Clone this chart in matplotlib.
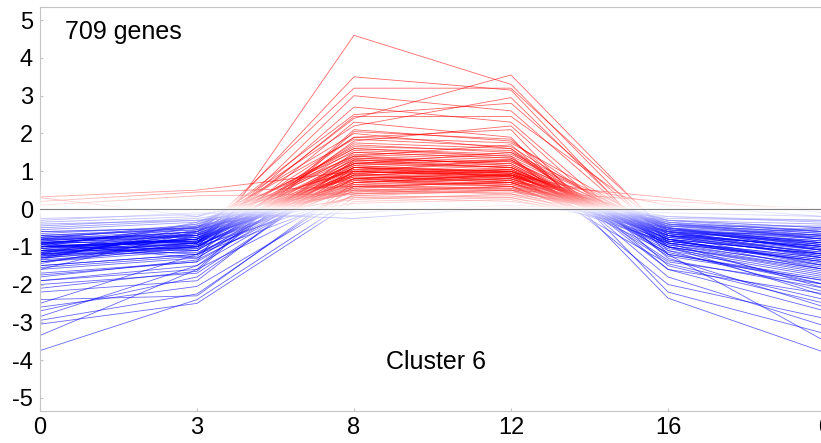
import numpy as np
from matplotlib import pyplot as plt
from matplotlib.collections import LineCollection
from matplotlib.patches import Rectangle

plt.rcParams['font.family'] = ['Liberation Sans', 'DejaVu Sans']
plt.rcParams['axes.unicode_minus'] = False

# time point labels (the last one is the next day's 0 h)
time_labels = ['0', '3', '8', '12', '16', '0']

# expression (log ratio) of each gene at every time point
h0 = [-3.75, -3.35, -3.05, -2.95, -2.7, -2.6, -2.85, -2.4, -2.2, -2.5,
      -1.7, -1.2, -1.0, -0.8, -1.3, -0.9, -1.1, -0.7, -1.4, -1.0,
      -0.9, -1.2, -0.6, -1.5, -0.8, -1.9, -1.6, -2.0, 0.32, 0.2,
      0.3, 0.1, -0.3, -0.4, -0.85, -1.05, -0.95, -1.2, -0.75, -1.15,
      -1.3, -0.9, -1.0, -0.8, -1.1, -1.25, -0.7, -1.35, -0.95, -1.6,
      -1.0, -1.2, -0.85, -1.45, -0.6, -1.1, -0.9, -1.3, -0.5, -1.05,
      -1.75, -0.8, -1.15, -1.0, -0.65, -1.4, -0.9, -1.2, -0.45, -1.1,
      -0.95, -1.25, -0.75, -1.55, -1.0, -0.85, -1.3, -0.35, -1.15, -0.9,
      -1.05, -1.9, -0.8, -1.2, -0.7, -1.35, -1.0, -0.55, -1.1, -1.5,
      -0.9, -1.25, -0.25, -1.0, -1.8, -0.75, -1.15, -1.4, -0.95, -2.1]
h3 = [-2.4, -1.6, -2.5, -2.25, -1.8, -2.05, -1.5, -2.3, -1.9, -1.2,
      -1.4, -0.8, -0.9, -0.7, -1.0, -0.6, -0.9, -0.5, -1.1, -0.8,
      -0.7, -1.0, -0.5, -1.2, -0.9, -1.6, -1.3, -1.7, 0.5, 0.45,
      -0.2, 0.35, -0.1, -0.3, -0.6, -0.8, -0.5, -0.9, -0.7, -1.0,
      -0.55, -0.85, -0.4, -0.75, -1.1, -0.65, -0.9, -0.45, -1.2, -0.6,
      -0.8, -0.35, -1.0, -0.7, -0.5, -0.95, -1.3, -0.6, -0.3, -0.85,
      -1.4, -0.55, -0.75, -1.05, -0.45, -0.9, -0.65, -1.15, -0.25, -0.8,
      -0.7, -1.0, -0.5, -1.25, -0.85, -0.6, -0.95, -0.2, -0.75, -1.1,
      -0.65, -1.5, -0.4, -0.9, -0.55, -1.05, -0.8, -0.35, -0.7, -1.2,
      -0.6, -0.95, -0.15, -0.85, -1.35, -0.5, -0.9, -1.0, -0.45, -1.65]
h8 = [0.3, 0.5, 0.2, 0.6, 1.1, 0.4, 0.9, 0.7, 1.3, 0.8,
      4.6, 2.4, 3.5, 3.2, 3.0, 2.5, 2.45, 2.2, 2.3, 1.9,
      1.6, 1.4, 2.0, 1.8, 2.7, 2.1, 1.2, 1.0, 1.0, 0.6,
      0.8, 0.4, -0.25, -0.1, 0.9, 1.1, 0.7, 1.25, 0.6, 1.0,
      1.35, 0.8, 1.5, 0.55, 1.15, 0.95, 1.7, 0.45, 1.05, 1.2,
      0.75, 1.4, 0.35, 0.9, 1.6, 0.65, 1.1, 0.85, 0.25, 1.3,
      1.0, 0.5, 1.45, 0.7, 1.85, 0.95, 1.2, 0.6, 0.4, 1.55,
      0.8, 1.1, 0.3, 1.35, 0.9, 1.65, 0.55, 1.0, 0.75, 1.25,
      0.65, 1.5, 0.85, 1.15, 0.45, 1.9, 0.7, 1.05, 1.3, 0.35,
      0.95, 1.75, 0.5, 1.2, 0.8, 1.4, 0.6, 1.1, 0.15, 2.05]
h12 = [0.2, 0.4, 0.3, 0.5, 0.9, 0.6, 0.7, 0.8, 1.1, 1.0,
       3.3, 3.55, 3.15, 3.2, 2.6, 2.8, 2.45, 2.95, 1.9, 2.1,
       1.4, 1.7, 1.6, 2.2, 2.3, 1.8, 1.5, 1.3, 0.9, 0.7,
       0.6, 0.5, 0.05, 0.1, 1.0, 0.85, 0.9, 1.1, 0.7, 0.8,
       1.2, 0.65, 1.35, 0.75, 0.95, 1.05, 1.5, 0.6, 0.85, 1.3,
       0.9, 1.15, 0.5, 1.0, 1.45, 0.8, 0.95, 0.7, 0.4, 1.25,
       0.85, 0.6, 1.3, 0.9, 1.65, 0.75, 1.05, 0.55, 0.45, 1.4,
       0.95, 1.0, 0.35, 1.2, 0.8, 1.55, 0.65, 0.9, 0.6, 1.1,
       0.7, 1.35, 0.75, 1.0, 0.5, 1.75, 0.85, 0.95, 1.15, 0.3,
       1.05, 1.6, 0.55, 1.1, 0.9, 1.25, 0.7, 1.0, 0.25, 1.85]
h16 = [-0.3, -0.6, -0.5, -0.4, -0.7, -0.9, -0.5, -0.6, -0.8, -1.0,
       -0.9, -0.7, -1.2, -0.6, -1.0, -0.8, -0.5, -1.1, -2.36, -2.2,
       -2.0, -1.8, -1.6, -1.5, -1.3, -1.0, -1.2, -1.4, 0.1, 0.3,
       -0.3, 0.2, -0.2, -0.1, -0.5, -0.7, -0.4, -0.8, -0.6, -0.45,
       -0.9, -0.35, -0.65, -0.55, -1.0, -0.75, -0.5, -0.85, -0.3, -0.95,
       -0.6, -0.7, -0.4, -1.1, -0.55, -0.8, -0.45, -0.65, -0.25, -0.9,
       -1.15, -0.5, -0.75, -0.6, -0.85, -0.4, -1.05, -0.7, -0.2, -0.55,
       -0.8, -0.65, -0.35, -0.95, -0.5, -1.25, -0.6, -0.45, -0.75, -0.85,
       -0.55, -1.35, -0.7, -0.4, -0.9, -0.6, -0.3, -0.8, -1.0, -0.5,
       -0.65, -1.2, -0.45, -0.7, -1.45, -0.55, -0.85, -0.35, -0.6, -1.6]
h0_next = [-0.6, -1.2, -1.0, -0.8, -1.5, -2.1, -1.1, -1.3, -1.6, -2.0,
           -1.4, -1.0, -1.9, -0.9, -1.6, -1.2, -0.7, -2.2, -3.8, -3.3,
           -2.9, -3.1, -2.7, -2.5, -2.6, -2.3, -3.5, -2.0, -0.2, -0.1,
           -0.5, 0.0, -0.3, -0.2, -0.9, -1.3, -0.7, -1.5, -1.1, -0.6,
           -1.4, -0.8, -1.2, -1.0, -1.7, -0.5, -1.1, -1.35, -0.4, -1.6,
           -0.95, -1.25, -0.65, -1.8, -0.85, -1.45, -0.75, -1.05, -0.3, -1.55,
           -2.0, -0.9, -1.15, -0.7, -1.3, -0.55, -1.75, -1.0, -0.35, -0.8,
           -1.2, -1.05, -0.6, -1.5, -0.95, -1.9, -0.85, -0.45, -1.25, -1.4,
           -0.75, -2.1, -1.1, -0.65, -1.35, -0.9, -0.5, -1.2, -1.65, -0.8,
           -1.0, -1.85, -0.7, -1.15, -2.4, -0.95, -1.3, -0.6, -1.1, -2.25]

n_genes = 709

profiles = np.column_stack([h0, h3, h8, h12, h16, h0_next])
x = np.arange(len(time_labels))
lines = [np.column_stack([x, p]) for p in profiles]

fig = plt.figure(figsize=(8.21, 4.43), dpi=100)
ax = fig.add_axes([40 / 821, 32 / 443, 785 / 821, 404 / 443])
ax.set_xlim(0, 5)
ax.set_ylim(-5.35, 5.35)

# red above zero, blue below zero
up = LineCollection(lines, colors=(1, 0, 0), linewidths=0.6, alpha=0.6, zorder=2)
ax.add_collection(up, autolim=False)
up.set_clip_path(Rectangle((-1, 0), 8, 10, transform=ax.transData))
down = LineCollection(lines, colors=(0, 0, 1), linewidths=0.6, alpha=0.6, zorder=2)
ax.add_collection(down, autolim=False)
down.set_clip_path(Rectangle((-1, -10), 8, 10, transform=ax.transData))

# fade to white towards zero
yy = np.linspace(-1.0, 1.0, 201)
fade = np.clip(1 - np.abs(yy) / 0.85, 0, 1) ** 1.5
img = np.ones((len(yy), 2, 4))
img[:, :, 3] = fade[:, None]
ax.imshow(img, extent=(-0.1, 5.1, -1.0, 1.0), origin='lower', aspect='auto',
          interpolation='bilinear', zorder=3)

ax.axhline(0, color='#808080', lw=0.8, zorder=4)

ax.set_xlim(0, 5)
ax.set_ylim(-5.35, 5.35)
ax.set_xticks(x)
ax.set_xticklabels(time_labels)
ax.set_yticks(range(-5, 6))
for s in ax.spines.values():
    s.set_color('#c4c4c4')
ax.tick_params(direction='in', length=2, color='#c4c4c4', labelsize=17,
               labelcolor='black')
ax.tick_params(axis='y', pad=5)
ax.tick_params(axis='x', pad=4)

ax.text(0.16, 4.7, f'{n_genes} genes', fontsize=18, va='center', zorder=5)
ax.text(2.52, -4.06, 'Cluster 6', fontsize=18, ha='center', va='center', zorder=5)

fig.savefig('out.png', dpi=100)
